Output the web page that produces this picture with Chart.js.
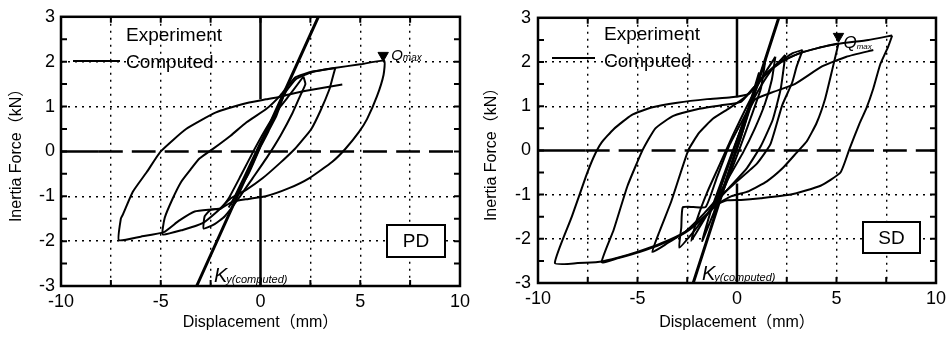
<!DOCTYPE html>
<html>
<head>
<meta charset="utf-8">
<script src="https://cdn.jsdelivr.net/npm/chart.js@4.4.1/dist/chart.umd.min.js"></script>
<style>
  body { margin: 0; background: #fff; }
  #pd { position: absolute; left: 0; top: 0; }
  #sd { position: absolute; left: 475px; top: 0; }
</style>
</head>
<body>
<canvas id="pd" width="475" height="339"></canvas>
<canvas id="sd" width="476" height="339"></canvas>
<script>
// tick labels
const xLabels = [-10, -5, 0, 5, 10];
const yLabels = [-3, -2, -1, 0, 1, 2, 3];

// PD specimen, experiment (mm, kN)
const pdOuterX = [-1.5, -0.8, 0.0, 0.8, 1.3, 1.8, 2.6, 3.7, 5.0, 6.2, 6.17, 5.84, 5.34, 4.93, 4.26, 3.6, 2.43, 1.43, 0.27, -0.6, -1.4, -2.0, -3.3, -4.1, -4.85, -6.0, -7.1, -7.0, -6.9, -6.4, -5.7, -5.0, -3.73, -2.23, -0.57, 0.27, 1.0, 1.43, 2.5, 4.1];
const pdOuterY = [-1.2, -0.55, 0.2, 0.9, 1.35, 1.62, 1.77, 1.86, 1.94, 2.02, 1.71, 1.23, 0.72, 0.43, 0.06, -0.23, -0.6, -0.82, -1.0, -1.06, -1.12, -1.27, -1.34, -1.55, -1.8, -1.9, -1.98, -1.5, -1.41, -0.9, -0.46, 0.0, 0.5, 0.87, 1.09, 1.16, 1.22, 1.27, 1.37, 1.49];
const pdMidX = [3.75, 3.6, 3.45, 3.0, 2.55, 2.1, 1.73, 1.0, 0.1, -0.7, -1.5, -2.2, -2.9, -3.9, -4.9, -4.8, -4.4, -3.98, -3.5, -3.06, -2.4, -1.5, -0.7, 0.3, 1.0, 1.75, 2.6, 3.75];
const pdMidY = [1.86, 1.62, 1.38, 0.9, 0.5, 0.25, 0.06, -0.25, -0.6, -0.85, -1.05, -1.35, -1.6, -1.75, -1.85, -1.48, -1.05, -0.68, -0.4, -0.16, 0.05, 0.35, 0.65, 0.95, 1.25, 1.65, 1.78, 1.86];
const pdSmallX = [2.15, 2.25, 2.0, 1.6, 1.0, 0.3, -0.4, -1.1, -1.8, -2.3, -2.85, -2.8, -2.5, -2.0, -1.6, -1.0, -0.3, 0.4, 1.0, 1.5, 2.15];
const pdSmallY = [1.67, 1.5, 1.25, 0.85, 0.35, -0.15, -0.6, -1.05, -1.45, -1.62, -1.72, -1.45, -1.3, -1.28, -1.05, -0.55, 0.05, 0.6, 1.0, 1.28, 1.67];
const pdElasticX = [-1.6, -1.0, -0.3, 0.4, 1.2, 0.8, 0.1, -0.6, -1.6];
const pdElasticY = [-1.25, -0.8, -0.15, 0.45, 1.3, 0.8, 0.2, -0.5, -1.25];
// PD computed yield stiffness line, Qmax marker
const pdKyX = [-3.2, 2.9];
const pdKyY = [-3, 3];
const pdQmaxX = [6.15];
const pdQmaxY = [2.14];

// SD specimen, experiment (mm, kN)
const sdOuterX = [7.8, 7.6, 7.2, 6.85, 6.5, 6.15, 5.65, 5.2, 4.2, 2.7, 1.2, 0.2, -0.5, -1.0, -1.6, -2.6, -3.8, -4.9, -6.0, -6.9, -8.0, -9.15, -8.3, -7.6, -7.2, -6.8, -6.2, -5.3, -4.3, -3.0, -1.5, -0.3, 0.6, 1.2, 2.0, 3.1, 4.1, 5.1, 6.6, 7.8];
const sdOuterY = [2.6, 2.35, 1.95, 1.4, 0.95, 0.6, 0.03, -0.5, -0.8, -1.0, -1.08, -1.12, -1.13, -1.22, -1.48, -1.84, -2.1, -2.28, -2.43, -2.52, -2.55, -2.55, -1.5, -0.6, -0.15, 0.18, 0.48, 0.8, 0.97, 1.08, 1.16, 1.2, 1.28, 1.6, 1.95, 2.19, 2.32, 2.41, 2.5, 2.6];
const sdC2X = [5.1, 4.8, 4.43, 4.0, 3.5, 3.0, 2.3, 1.5, 0.6, -0.3, -1.0, -1.6, -2.6, -3.8, -4.9, -6.0, -6.8, -6.2, -5.5, -4.75, -4.1, -3.2, -2.0, -0.8, 0.2, 0.8, 1.5, 2.3, 3.1, 4.1, 5.1];
const sdC2Y = [2.42, 1.85, 1.17, 0.62, 0.2, -0.05, -0.4, -0.7, -0.92, -1.04, -1.22, -1.5, -1.86, -2.12, -2.3, -2.44, -2.53, -1.8, -0.8, 0.0, 0.5, 0.78, 0.93, 1.02, 1.1, 1.4, 1.75, 2.02, 2.19, 2.32, 2.42];
const sdC3X = [3.3, 3.0, 2.77, 2.27, 1.68, 1.0, 0.0, -1.0, -1.7, -2.6, -3.5, -4.25, -3.9, -3.3, -2.45, -1.9, -1.2, -0.4, 0.4, 1.2, 2.0, 2.8, 3.3];
const sdC3Y = [2.27, 1.9, 1.53, 1.02, 0.14, -0.3, -0.7, -1.1, -1.45, -1.84, -2.1, -2.3, -1.84, -1.15, 0.0, 0.4, 0.72, 0.95, 1.2, 1.6, 1.95, 2.2, 2.27];
const sdC4X = [2.43, 2.2, 1.8, 1.2, 0.5, -0.3, -1.0, -1.6, -2.2, -2.9, -2.8, -2.73, -2.2, -1.57, -1.0, -0.4, 0.3, 1.0, 1.7, 2.43];
const sdC4Y = [2.16, 1.4, 0.7, 0.1, -0.4, -0.8, -1.15, -1.5, -1.85, -2.2, -1.75, -1.29, -1.28, -1.28, -0.6, 0.1, 0.7, 1.3, 1.8, 2.16];
const sdC5X = [1.93, 1.75, 1.4, 0.9, 0.3, -0.4, -1.1, -1.7, -2.3, -2.0, -1.5, -0.9, -0.2, 0.5, 1.2, 1.93];
const sdC5Y = [2.12, 1.6, 1.05, 0.5, -0.05, -0.6, -1.15, -1.6, -2.05, -1.55, -0.95, -0.35, 0.35, 1.0, 1.6, 2.12];
const sdC6X = [1.43, 1.2, 0.7, 0.1, -0.5, -1.2, -1.75, -1.3, -0.7, 0.0, 0.7, 1.43];
const sdC6Y = [2.05, 1.4, 0.75, 0.0, -0.7, -1.45, -2.05, -1.35, -0.6, 0.25, 1.1, 2.05];
const sdElasticX = [-1.2, -0.5, 0.2, 0.9, 1.1, 0.6, -0.1, -0.8, -1.2];
const sdElasticY = [-1.5, -0.6, 0.3, 1.4, 1.75, 1.0, 0.1, -0.8, -1.5];
const sdEndX = [-1.1, -0.4, 0.3, 0.9, 1.75, 2.9, 4.27, 5.5, 6.85];
const sdEndY = [-1.2, -0.3, 0.6, 1.15, 1.31, 1.5, 1.9, 2.12, 2.27];
// SD computed yield stiffness line, Qmax marker
const sdKyX = [-2.2, 2.1];
const sdKyY = [-3, 3];
const sdQmaxX = [5.1];
const sdQmaxY = [2.58];

const FONT = '"Liberation Sans", Arimo, Arial, "Noto Sans CJK JP", sans-serif';

function pts(xs, ys) {
    return xs.map((x, i) => ({ x: x, y: ys[i] }));
}

function lineDs(xs, ys, w, dash) {
    return {
        data: pts(xs, ys),
        showLine: true,
        borderColor: '#000',
        borderWidth: w,
        borderDash: dash || [],
        pointRadius: 0,
        tension: 0.15,
        fill: false
    };
}

// frame, inward ticks, legend text, labels
const decorPlugin = {
    id: 'decor',
    afterDatasetsDraw(chart, args, o) {
        const ctx = chart.ctx;
        const a = chart.chartArea;
        const xs = chart.scales.x, ys = chart.scales.y;
        ctx.save();
        ctx.strokeStyle = '#000';
        ctx.fillStyle = '#000';
        ctx.lineWidth = 2.5;
        ctx.strokeRect(a.left, a.top, a.right - a.left, a.bottom - a.top);

        ctx.lineWidth = 2;
        ctx.beginPath();
        xs.ticks.forEach(t => {
            if (Math.abs(t.value) >= 10) return;
            const px = xs.getPixelForValue(t.value);
            ctx.moveTo(px, a.bottom); ctx.lineTo(px, a.bottom - 6);
            ctx.moveTo(px, a.top); ctx.lineTo(px, a.top + 6);
        });
        for (let v = -2.5; v <= 2.5; v += 0.5) {
            const py = ys.getPixelForValue(v);
            ctx.moveTo(a.left, py); ctx.lineTo(a.left + 6, py);
            ctx.moveTo(a.right, py); ctx.lineTo(a.right - 6, py);
        }
        ctx.stroke();

        // legend
        const lg = o.legend;
        ctx.font = '19px ' + FONT;
        ctx.textAlign = 'left';
        ctx.textBaseline = 'alphabetic';
        ctx.fillText('Experiment', lg.x, lg.y1);
        ctx.fillText('Computed', lg.x, lg.y2);
        ctx.lineWidth = 2;
        ctx.beginPath();
        ctx.moveTo(lg.lx1, lg.ly); ctx.lineTo(lg.lx2, lg.ly);
        ctx.stroke();

        // specimen box
        const b = o.box;
        ctx.fillStyle = '#fff';
        ctx.fillRect(b.x, b.y, b.w, b.h);
        ctx.fillStyle = '#000';
        ctx.strokeRect(b.x, b.y, b.w, b.h);
        ctx.textAlign = 'center';
        ctx.textBaseline = 'middle';
        ctx.font = '19px ' + FONT;
        ctx.fillText(b.text, b.x + b.w / 2, b.y + b.h / 2 + 1);

        // Qmax label next to the marker
        const q = o.qmax;
        const qx = xs.getPixelForValue(q.at[0]) + q.dx;
        const qy = ys.getPixelForValue(q.at[1]) + q.dy;
        ctx.textAlign = 'left';
        ctx.textBaseline = 'alphabetic';
        ctx.font = 'italic ' + q.size + 'px ' + FONT;
        ctx.fillText('Q', qx, qy);
        const qw = ctx.measureText('Q').width;
        ctx.font = 'italic ' + q.sub + 'px ' + FONT;
        ctx.fillText('max', qx + qw, qy + 1);

        // Ky label
        const k = o.ky;
        ctx.font = 'italic 20px ' + FONT;
        ctx.fillText('K', k.x, k.y);
        const kw = ctx.measureText('K').width;
        ctx.font = 'italic 11px ' + FONT;
        ctx.fillText('y(computed)', k.x + kw - 1, k.y + 1);
        ctx.restore();
    }
};

function panel(id, p) {
    const datasets = [
        lineDs([0, 0], [3, p.gap[0]], 2.5),
        lineDs([0, 0], [p.gap[1], -3], 2.5),
        lineDs([-10, p.solidTo], [0, 0], 2.5),
        lineDs([p.solidTo, 10], [0, 0], 2.5, [24, 9]),
        lineDs(p.ky[0], p.ky[1], 3)
    ];
    p.loops.forEach(l => datasets.push(lineDs(l[0], l[1], 2)));
    datasets.push({
        data: pts(p.qmax[0], p.qmax[1]),
        showLine: false,
        pointStyle: 'triangle',
        pointRotation: 180,
        pointRadius: 6,
        backgroundColor: '#000',
        borderColor: '#000',
        borderWidth: 1
    });

    new Chart(document.getElementById(id), {
        type: 'scatter',
        data: { datasets: datasets },
        options: {
            responsive: false,
            animation: false,
            events: [],
            layout: { padding: { top: p.pad.top, right: p.pad.right, left: 0, bottom: 0 } },
            plugins: {
                legend: { display: false },
                tooltip: { enabled: false },
                decor: p.decor
            },
            scales: {
                x: {
                    type: 'linear',
                    min: -10, max: 10,
                    afterFit: s => { s.height = p.xH; },
                    border: { display: false, dash: [2, 5] },
                    grid: {
                        drawTicks: false,
                        lineWidth: 1.4,
                        color: c => (c.tick && (c.tick.value === 0 || Math.abs(c.tick.value) >= 10)) ? 'rgba(0,0,0,0)' : '#000'
                    },
                    ticks: {
                        stepSize: 2.5,
                        autoSkip: false,
                        maxRotation: 0,
                        padding: 5,
                        color: '#000',
                        font: { family: FONT, size: 18 },
                        callback: v => xLabels.includes(v) ? String(v) : ''
                    },
                    title: {
                        display: true,
                        text: 'Displacement（mm）',
                        color: '#000',
                        font: { family: FONT, size: 16 },
                        padding: { top: 0, bottom: 7 }
                    }
                },
                y: {
                    type: 'linear',
                    min: -3, max: 3,
                    afterFit: s => { s.width = p.yW; },
                    border: { display: false, dash: [2, 5] },
                    grid: {
                        drawTicks: false,
                        lineWidth: 1.4,
                        color: c => (c.tick && (c.tick.value === 0 || Math.abs(c.tick.value) >= 3)) ? 'rgba(0,0,0,0)' : '#000'
                    },
                    ticks: {
                        stepSize: 1,
                        padding: p.yPad,
                        color: '#000',
                        font: { family: FONT, size: 18 },
                        callback: v => yLabels.includes(v) ? String(v) : ''
                    },
                    title: {
                        display: true,
                        text: 'Inertia Force（kN）',
                        color: '#000',
                        font: { family: FONT, size: 16 },
                        padding: { top: 7, bottom: 0 }
                    }
                }
            }
        },
        plugins: [decorPlugin]
    });
}

panel('pd', {
    pad: { top: 13, right: 13 },
    yW: 61, xH: 53, yPad: 6,
    gap: [1.16, -0.82],
    solidTo: -8.1,
    ky: [pdKyX, pdKyY],
    qmax: [pdQmaxX, pdQmaxY],
    loops: [[pdOuterX, pdOuterY], [pdMidX, pdMidY], [pdSmallX, pdSmallY], [pdElasticX, pdElasticY]],
    decor: {
        legend: { x: 126, y1: 41, y2: 68, lx1: 73, lx2: 120, ly: 61 },
        box: { x: 387, y: 225, w: 58, h: 32, text: 'PD' },
        qmax: { at: [pdQmaxX[0], pdQmaxY[0]], dx: 8, dy: 5, size: 15, sub: 10 },
        ky: { x: 214, y: 282 }
    }
});

panel('sd', {
    pad: { top: 10, right: 13 },
    yW: 63, xH: 56, yPad: 7,
    gap: [1.2, -0.75],
    solidTo: -7.6,
    ky: [sdKyX, sdKyY],
    qmax: [sdQmaxX, sdQmaxY],
    loops: [[sdOuterX, sdOuterY], [sdC2X, sdC2Y], [sdC3X, sdC3Y], [sdC4X, sdC4Y], [sdC5X, sdC5Y], [sdC6X, sdC6Y], [sdElasticX, sdElasticY], [sdEndX, sdEndY]],
    decor: {
        legend: { x: 129, y1: 40, y2: 67, lx1: 77, lx2: 120, ly: 58 },
        box: { x: 388, y: 222, w: 57, h: 31, text: 'SD' },
        qmax: { at: [sdQmaxX[0], sdQmaxY[0]], dx: 5, dy: 12, size: 17, sub: 8 },
        ky: { x: 227, y: 280 }
    }
});
</script>
</body>
</html>
